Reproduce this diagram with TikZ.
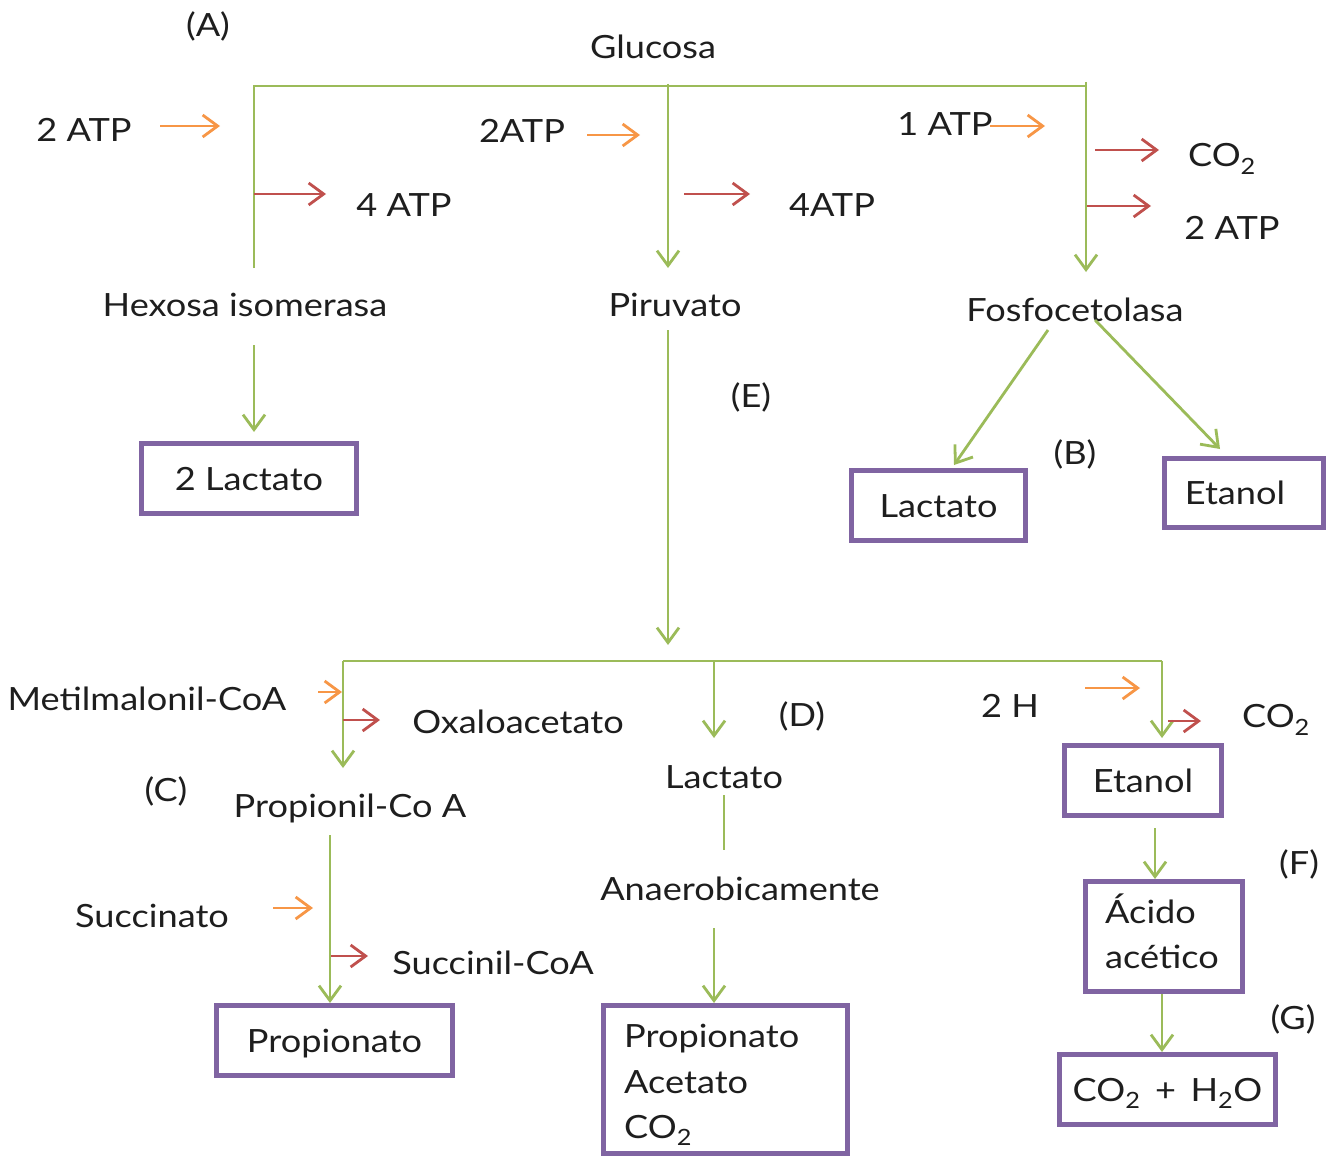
\documentclass[tikz,border=0pt]{standalone}
\usepackage{fontspec}
\setmainfont{Lato}[FakeStretch=1.13]
\usetikzlibrary{arrows.meta}
\definecolor{gr}{HTML}{9BBB59}
\definecolor{og}{HTML}{F79646}
\definecolor{rd}{HTML}{C0504D}
\definecolor{pu}{HTML}{8064A2}
\definecolor{tx}{HTML}{1E1E1E}
\begin{document}
\begin{tikzpicture}[x=1pt,y=-1pt,
  lbl/.style={font=\fontsize{32}{45}\selectfont, text=tx, inner sep=0pt, text height=23pt, text depth=0pt},
  btxt/.style={font=\fontsize{32}{45}\selectfont, text=tx, inner sep=0pt, anchor=base west},
  tip/.style={-{Straight Barb[length=15pt,width=22pt]}},
  gline/.style={draw=gr, line width=2.8pt},
  garrow/.style={gline, tip},
  oarrow/.style={draw=og, line width=2.8pt, tip},
  rarrow/.style={draw=rd, line width=2.8pt, tip},
  pbox/.style={draw=pu, line width=5pt, font=\fontsize{32}{45}\selectfont, text=tx, text height=23pt, text depth=0pt, inner sep=0pt}]
\useasboundingbox (0,0) rectangle (1337,1158);
\fill[white] (0,0) rectangle (1337,1158);

% ---------- top labels ----------
\node[lbl] (A) at (208,25) {(A)};
\node[lbl] (glu) at (653,47) {Glucosa};
\node[lbl] (atpL) at (84,130) {2 ATP};
\node[lbl] (atp4L) at (404,205) {4 ATP};
\node[lbl] (atpM) at (522,131) {2ATP};
\node[lbl] (atp4M) at (832,205) {4ATP};
\node[lbl] (atp1R) at (945,124) {1 ATP};
\node[lbl] (co2R) at (1222,155) {CO\textsubscript{2}};
\node[lbl] (atp2R) at (1232,228) {2 ATP};
\node[lbl] (hex) at (245,305) {Hexosa isomerasa};
\node[lbl] (pir) at (675,305) {Piruvato};
\node[lbl] (fos) at (1075,310) {Fosfocetolasa};
\node[lbl] (E) at (751,396) {(E)};
\node[lbl] (B) at (1075,453) {(B)};

% ---------- top boxes ----------
\node[pbox, minimum width=215pt, minimum height=70pt] (lac2) at (249,478.5) {2 Lactato};
\node[pbox, minimum width=174pt, minimum height=70pt] (lacB) at (938.5,505.5) {Lactato};
\node[pbox, minimum width=159pt, minimum height=69pt, text width=159pt, align=center] (etB) at (1244,493) {\hspace*{-18pt}Etanol};

% ---------- top connectors ----------
\coordinate (tl) at (254,86);
\coordinate (tr) at (1086,86);
\coordinate (tlb) at (254,268);
\draw[gline] (tlb) -- (tl) -- (tr);
\draw[garrow] ([yshift=4pt]tr) -- (1086,272);
\draw[garrow] (668,84) -- (668,268);
\draw[oarrow] (160,126) -- (220,126);
\draw[rarrow] (254,194) -- (326,194);
\draw[oarrow] (587,135) -- (640,135);
\draw[rarrow] (684,194) -- (750,194);
\draw[oarrow] (990,126) -- (1045,126);
\draw[rarrow] (1095,150) -- (1159,150);
\draw[rarrow] (1087,206) -- (1151,206);
\draw[garrow] (254,345) -- (254,432);
\draw[garrow] (668,330) -- (668,645);
\draw[garrow] (1048,330) -- (954,465);
\draw[garrow] (1095,320) -- (1220,449);

% ---------- lower labels ----------
\node[lbl] (metil) at (147,699) {Metilmalonil-CoA};
\node[lbl] (oxa) at (518,722) {Oxaloacetato};
\node[lbl] (D) at (802,715) {(D)};
\node[lbl] (h2) at (1010,706) {2 H};
\node[lbl] (co2b) at (1276,716) {CO\textsubscript{2}};
\node[lbl] (C) at (166,790) {(C)};
\node[lbl] (propco) at (350,806) {Propionil-Co A};
\node[lbl] (lacD) at (724,777) {Lactato};
\node[lbl] (anae) at (740,889) {Anaerobicamente};
\node[lbl] (F) at (1299,863) {(F)};
\node[lbl] (G) at (1293,1018) {(G)};
\node[lbl] (succ) at (152,916) {Succinato};
\node[lbl] (succoa) at (493,963) {Succinil-CoA};

% ---------- lower boxes ----------
\node[pbox, minimum width=157pt, minimum height=70pt] (et2) at (1143,780.5) {Etanol};
\node[pbox, minimum width=157pt, minimum height=110pt] (acido) at (1164,936.5) {};
\node[btxt] (acido1) at (1105,923) {Ácido};
\node[btxt] (acido2) at (1105,968) {acético};
\node[pbox, minimum width=216pt, minimum height=70pt] (coh) at (1167.5,1089.5) {CO\textsubscript{2} \,+\, H\textsubscript{2}O};
\node[pbox, minimum width=236pt, minimum height=70pt] (prop) at (334.5,1040.5) {Propionato};
\node[pbox, minimum width=244pt, minimum height=148pt] (big) at (725.5,1079.5) {};
\node[btxt] (big1) at (624,1047) {Propionato};
\node[btxt] (big2) at (624,1093) {Acetato};
\node[btxt] (big3) at (624,1138) {CO\textsubscript{2}};

% ---------- lower connectors ----------
\coordinate (bl) at (343,661);
\coordinate (bm) at (714,661);
\coordinate (br) at (1162,661);
\draw[gline] (bl) -- (br);
\draw[garrow] (bl) -- (343,768);
\draw[garrow] (bm) -- (714,738);
\draw[garrow] (br) -- (1162,738);
\draw[oarrow] (318,692) -- (342,692);
\draw[rarrow] (343,720) -- (380,720);
\draw[oarrow] (1085,688) -- (1140,688);
\draw[rarrow] (1168,721) -- (1201,721);
\draw[draw=gr, line width=2pt] (724,795) -- (724,850);
\draw[garrow] (1155,828) -- (acido.north -| 1155,0);
\draw[garrow] (1162,994) -- (coh.north -| 1162,0);
\draw[garrow] (330,835) -- (prop.north -| 330,0);
\draw[oarrow] (273,908) -- (313,908);
\draw[rarrow] (331,956) -- (368,956);
\draw[garrow] (714,928) -- (big.north -| 714,0);
\end{tikzpicture}
\end{document}
